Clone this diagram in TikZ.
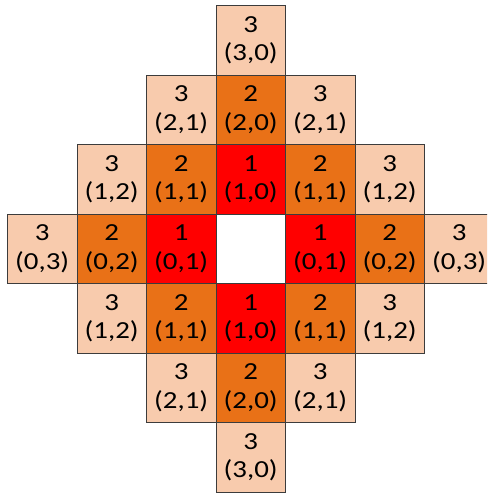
\documentclass[tikz,border=0pt]{standalone}
\usepackage{fontspec}
\setmainfont{Carlito}
\usetikzlibrary{calc}
\definecolor{peach}{RGB}{248,203,173}
\definecolor{orng}{RGB}{233,113,23}
\definecolor{redc}{RGB}{255,0,0}
\definecolor{edge}{RGB}{60,60,60}
\newcommand{\wide}[1]{\scalebox{1.18}[1]{#1}}
\begin{document}
\begin{tikzpicture}[x=1pt,y=-1pt,
  cell/.style={draw=edge,line width=0.9pt,minimum width=69.5pt,minimum height=69.5pt,inner sep=0pt,anchor=north west},
  lbl/.style={anchor=base,inner sep=0pt,font=\fontsize{24.5}{29}\selectfont}]
\useasboundingbox (0,0) rectangle (487,495);
\clip (0,0) rectangle (487,495);
\foreach \c/\r/\n/\t/\col in {
  3/0/3/{(3,0)}/peach,
  2/1/3/{(2,1)}/peach, 3/1/2/{(2,0)}/orng, 4/1/3/{(2,1)}/peach,
  1/2/3/{(1,2)}/peach, 2/2/2/{(1,1)}/orng, 3/2/1/{(1,0)}/redc, 4/2/2/{(1,1)}/orng, 5/2/3/{(1,2)}/peach,
  0/3/3/{(0,3)}/peach, 1/3/2/{(0,2)}/orng, 2/3/1/{(0,1)}/redc, 4/3/1/{(0,1)}/redc, 5/3/2/{(0,2)}/orng, 6/3/3/{(0,3)}/peach,
  1/4/3/{(1,2)}/peach, 2/4/2/{(1,1)}/orng, 3/4/1/{(1,0)}/redc, 4/4/2/{(1,1)}/orng, 5/4/3/{(1,2)}/peach,
  2/5/3/{(2,1)}/peach, 3/5/2/{(2,0)}/orng, 4/5/3/{(2,1)}/peach,
  3/6/3/{(3,0)}/peach}
{
  \node[cell,fill=\col] (k-\c-\r) at ({7+69.5*\c},{5+69.5*\r}) {};
  \node[lbl] (n-\c-\r) at ($(k-\c-\r.north)+(0,27.3)$) {\wide{\n}};
  \node[lbl] (t-\c-\r) at ($(k-\c-\r.north)+(0,55.5)$) {\wide{\t}};
}
\end{tikzpicture}
\end{document}
